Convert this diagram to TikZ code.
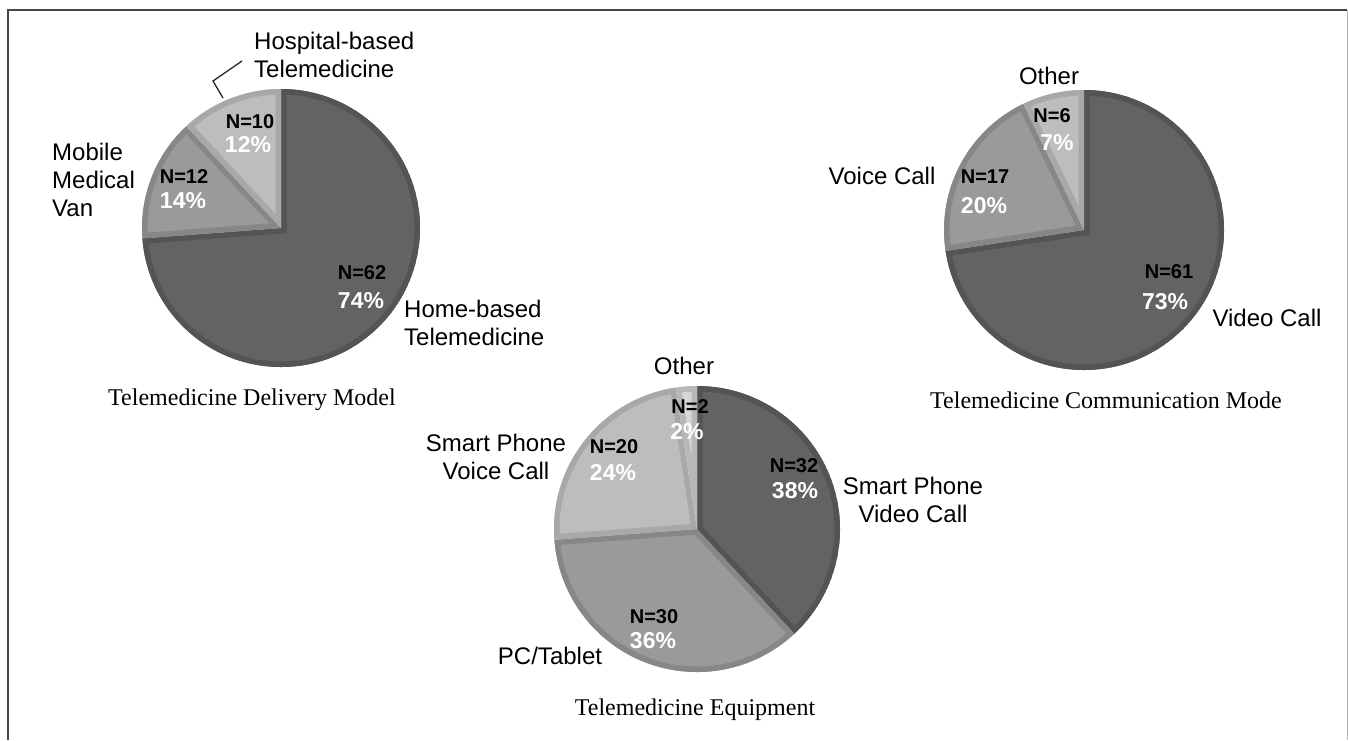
\documentclass[tikz,border=0pt]{standalone}
\usepackage{fontspec}
\setmainfont{Liberation Serif}
\newfontfamily\labelfont{Liberation Sans}
\definecolor{sliceA}{HTML}{636363}
\definecolor{edgeA}{HTML}{545454}
\definecolor{sliceB}{HTML}{9A9A9A}
\definecolor{edgeB}{HTML}{878787}
\definecolor{sliceC}{HTML}{BDBDBD}
\definecolor{edgeC}{HTML}{A8A8A8}
\definecolor{sliceD}{HTML}{D6D6D6}
\definecolor{edgeD}{HTML}{B8B8B8}
\definecolor{framedark}{HTML}{474747}
\definecolor{framelight}{HTML}{B4B4B4}
% one wedge: centre x, centre y, radius, start angle, end angle, fill, rim colour
\newcommand\pieslice[7]{%
  \begin{scope}
    \clip (#1,#2) -- ++(#4:#3) arc[start angle=#4, end angle=#5, radius=#3] -- cycle;
    \fill[#6] (#1,#2) -- ++(#4:#3) arc[start angle=#4, end angle=#5, radius=#3] -- cycle;
    \draw[#7, line width=11pt, line join=miter] (#1,#2) -- ++(#4:#3) arc[start angle=#4, end angle=#5, radius=#3] -- cycle;
  \end{scope}}
\tikzset{
  cat/.style={font=\labelfont\fontsize{24}{27.6}\selectfont, inner sep=0pt, text=black},
  catl/.style={cat, align=left, anchor=west},
  catc/.style={cat, align=center},
  count/.style={font=\labelfont\bfseries\fontsize{20}{24}\selectfont, inner sep=0pt, text=black},
  share/.style={font=\labelfont\bfseries\fontsize{23}{26}\selectfont, inner sep=0pt, text=white},
  charttitle/.style={font=\fontsize{24}{28}\selectfont, inner sep=0pt},
  leader/.style={draw=black!85, line width=1.3pt}
}
\begin{document}
\begin{tikzpicture}[x=1pt, y=1pt]
\useasboundingbox (0,0) rectangle (1348,-740);
\fill[white] (0,0) rectangle (1348,-740);

% outer frame
\draw[framedark, line width=2pt] (8,-740) -- (8,-10) -- (1347,-10);
\draw[framelight, line width=1pt] (1347,-10) -- (1347,-740);

% ---- delivery model ----
\pieslice{281}{-228}{139}{90}{-175.7}{sliceA}{edgeA}
\pieslice{281}{-228}{139}{184.3}{132.9}{sliceB}{edgeB}
\pieslice{281}{-228}{139}{132.9}{90}{sliceC}{edgeC}

\node[catl] (hosp) at (254,-55) {Hospital-based\\Telemedicine};
\node[catl] (mobile) at (52,-180) {Mobile\\Medical\\Van};
\node[catl] (home) at (404,-323) {Home-based\\Telemedicine};
\node[count] (n10) at (250,-122) {N=10};
\node[share] (p12) at (248,-145) {12\%};
\node[count] (n12) at (184,-177) {N=12};
\node[share] (p14) at (183,-201) {14\%};
\node[count] (n62) at (362,-273) {N=62};
\node[share] (p74) at (361,-301) {74\%};
\node[charttitle] (t1) at (252,-400) {Telemedicine Delivery Model};

\coordinate (hospRim) at (223,-98);
\coordinate (hospBend) at (213,-81);
\coordinate (hospEnd) at (242,-61);
\draw[leader] (hospRim) -- (hospBend) -- (hospEnd);

% ---- communication mode ----
\pieslice{1084}{-230}{140}{90}{-171.4}{sliceA}{edgeA}
\pieslice{1084}{-230}{140}{188.6}{115.7}{sliceB}{edgeB}
\pieslice{1084}{-230}{140}{115.7}{90}{sliceC}{edgeC}

\node[catc] (other2) at (1049,-76) {Other};
\node[catc] (voice2) at (882,-176) {Voice Call};
\node[catc] (video2) at (1267,-318) {Video Call};
\node[count] (n6) at (1052,-116) {N=6};
\node[share] (p7) at (1057,-143) {7\%};
\node[count] (n17) at (985,-177) {N=17};
\node[share] (p20) at (984,-206) {20\%};
\node[count] (n61) at (1169,-272) {N=61};
\node[share] (p73) at (1165,-302) {73\%};
\node[charttitle] (t2) at (1106,-400) {Telemedicine Communication Mode};

% ---- equipment ----
\pieslice{697}{-529}{143}{90}{-47.1}{sliceA}{edgeA}
\pieslice{697}{-529}{143}{-47.1}{-175.7}{sliceB}{edgeB}
\pieslice{697}{-529}{143}{184.3}{98.6}{sliceC}{edgeC}
\pieslice{697}{-529}{143}{98.6}{90}{sliceD}{edgeD}

\node[catc] (other3) at (684,-366) {Other};
\node[catc] (spvoice) at (496,-457) {Smart Phone\\Voice Call};
\node[catc] (spvideo) at (913,-500) {Smart Phone\\Video Call};
\node[catc] (pc) at (550,-656) {PC/Tablet};
\node[count] (n2) at (690,-407) {N=2};
\node[share] (p2) at (687,-432) {2\%};
\node[count] (n20) at (614,-447) {N=20};
\node[share] (p24) at (613,-473) {24\%};
\node[count] (n32) at (794,-466) {N=32};
\node[share] (p38) at (795,-491) {38\%};
\node[count] (n30) at (654,-617) {N=30};
\node[share] (p36) at (653,-641) {36\%};
\node[charttitle] (t3) at (695,-710) {Telemedicine Equipment};
\end{tikzpicture}
\end{document}
